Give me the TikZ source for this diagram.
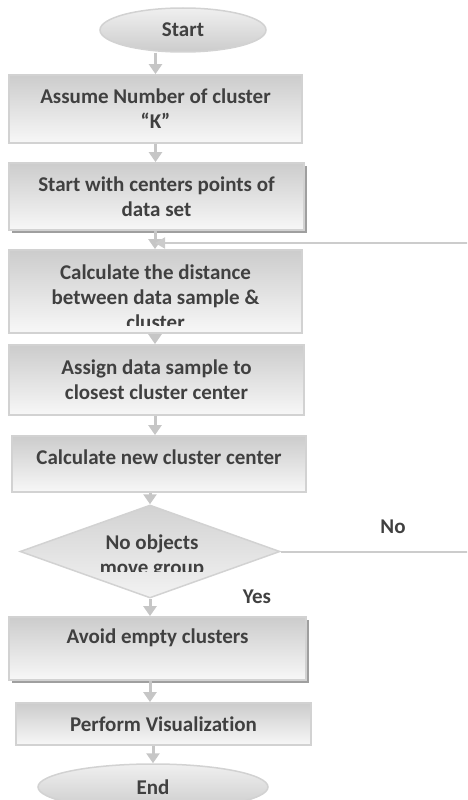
\documentclass[tikz,border=0pt]{standalone}
\usepackage{fontspec}
\setmainfont{Carlito}[Ligatures=NoCommon]
\usetikzlibrary{shapes.geometric,arrows.meta,shadows}

\begin{document}
\begin{tikzpicture}[x=1pt,y=-1pt,
    txt/.style={font=\fontsize{21}{25}\selectfont\bfseries, text=black!75, align=center},
    procbox/.style={rectangle, draw=gray!35, line width=1.8pt, top color=gray!40, bottom color=gray!6, inner sep=0pt, txt},
    shadowbox/.style={procbox, drop shadow={shadow xshift=2.5pt, shadow yshift=-2.5pt, fill=gray!75, opacity=1}},
    termnode/.style={ellipse, draw=gray!35, line width=1.5pt, top color=gray!12, bottom color=gray!40, inner sep=0pt, txt},
    flow/.style={draw=gray!45, line width=3pt, -{Triangle[width=13pt,length=10pt]}},
    back/.style={draw=gray!40, line width=2pt, -{Triangle[width=11pt,length=10pt]}}
  ]
  \clip (0,0) rectangle (467,800);

  \node (start) at (183,30) [termnode, minimum width=166, minimum height=44] {Start};
  \node (numk) at (155.5,109) [procbox, minimum width=293, minimum height=68] {Assume Number of cluster\\“K”};
  \node (centers) at (156.5,196.5) [shadowbox, minimum width=295, minimum height=67] {Start with centers points of\\data set};
  \coordinate (merge) at (155,243);
  \node (dist) at (155.5,291.5) [procbox, minimum width=293, minimum height=83] {};
  \begin{scope}
    \clip (dist.north west) rectangle ([yshift=8pt]dist.south east);
    \node (dist_text) at (155.5,297) [txt] {Calculate the distance\\between data sample \&\\cluster};
  \end{scope}
  \node (assign) at (156.5,380) [procbox, minimum width=295, minimum height=70] {Assign data sample to\\closest cluster center};
  \node (newc) at (159,464) [procbox, minimum width=294, minimum height=56, text depth=13pt] {Calculate new cluster center};
  \node (decide) at (150,551.5) [diamond, draw=gray!35, line width=1.5pt, top color=gray!35, bottom color=gray!10, inner sep=0pt, minimum width=260, minimum height=93] {};
  \begin{scope}
    \clip (20,505) rectangle (280,571);
    \node (decide_text) at (152,556.5) [txt] {No objects\\move group};
  \end{scope}
  \node (no_label) at (393,527) [txt] {No};
  \node (yes_label) at (257,597) [txt] {Yes};
  \node (avoid) at (157.5,648.5) [shadowbox, minimum width=297, minimum height=63, text depth=25pt] {Avoid empty clusters};
  \node (visual) at (163.5,724) [procbox, minimum width=295, minimum height=42] {Perform Visualization};
  \node (end) at (153,787) [termnode, minimum width=230, minimum height=46] {End};

  \draw[flow] (start.south -| numk.north) -- (numk.north);
  \draw[flow] (numk.south) -- (numk.south |- centers.north);
  \draw[flow] (centers.south -| merge) -- (merge |- dist.north);
  \draw[back] (decide.east) -- (520,551.5) -- (520,243) -- (merge);
  \draw[flow] (dist.south -| merge) -- (merge |- assign.north);
  \draw[flow] (assign.south -| merge) -- (merge |- newc.north);
  \draw[flow] (newc.south -| decide.north) -- (decide.north);
  \draw[flow] (decide.south) -- (decide.south |- avoid.north);
  \draw[flow] (avoid.south -| decide.south) -- (decide.south |- visual.north);
  \draw[flow] (visual.south -| end.north) -- (end.north);
\end{tikzpicture}
\end{document}
